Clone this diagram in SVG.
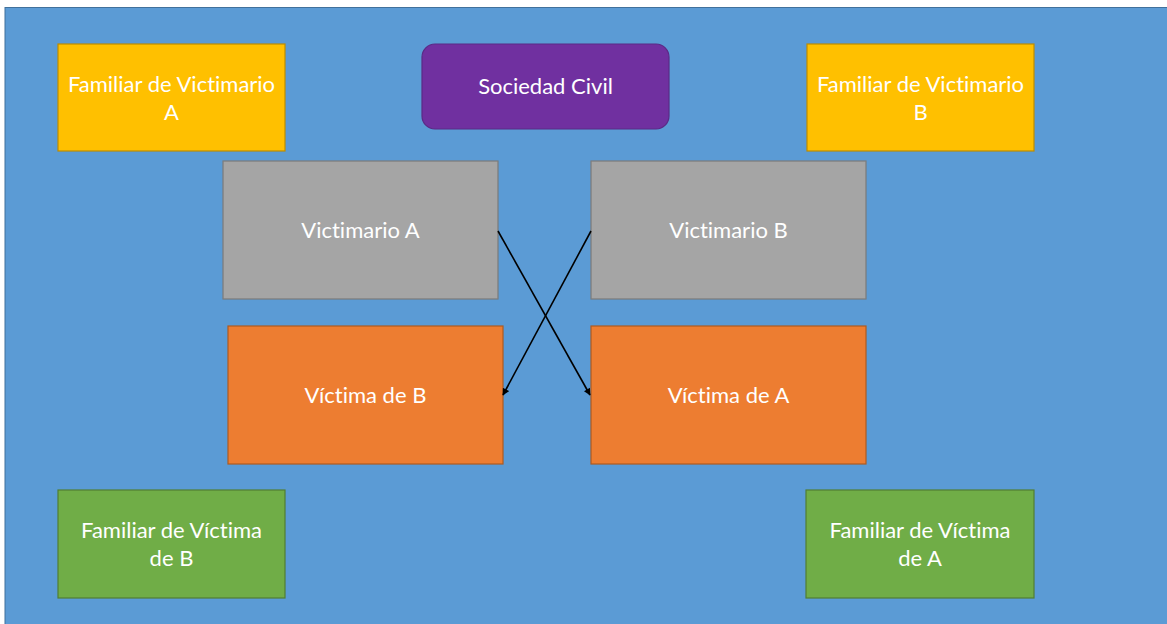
<svg xmlns="http://www.w3.org/2000/svg" width="1167" height="624" viewBox="0 0 1167 624">
<style>
text{font-family:Lato,"Open Sans","Liberation Sans",sans-serif;font-size:22px;fill:#ffffff;text-anchor:middle;font-variant-ligatures:none}
.gold{fill:#FFC000;stroke:#BC8C00;stroke-width:1.2}
.grey{fill:#A5A5A5;stroke:#7B7B7B;stroke-width:1.2}
.orange{fill:#ED7D31;stroke:#AE5A21;stroke-width:1.2}
.green{fill:#70AD47;stroke:#507E32;stroke-width:1.2}
.purple{fill:#7030A0;stroke:#5B2A86;stroke-width:1.2}
.conn{stroke:#000;stroke-width:1.6;fill:none;marker-end:url(#ah)}
</style>
<defs>
<marker id="ah" viewBox="0 0 10 10" refX="9" refY="5" markerWidth="8" markerHeight="7" orient="auto" markerUnits="userSpaceOnUse"><path d="M0,0 L10,5 L0,10 z" fill="#000"/></marker>
</defs>
<rect x="0" y="0" width="1167" height="624" fill="#ffffff"/>
<rect x="5" y="7.5" width="1163" height="618" fill="#5B9BD5" stroke="#41719C" stroke-width="1"/>
<g id="familiar-victimario-a"><rect class="gold" x="58" y="44" width="227" height="107"/><text x="171.5" y="92">Familiar de Victimario</text><text x="171.5" y="120">A</text></g>
<g id="sociedad-civil"><rect class="purple" x="422" y="44" width="247" height="85" rx="13"/><text x="545.5" y="94">Sociedad Civil</text></g>
<g id="familiar-victimario-b"><rect class="gold" x="807" y="44" width="227" height="107"/><text x="920.5" y="92">Familiar de Victimario</text><text x="920.5" y="120">B</text></g>
<g id="victimario-a"><rect class="grey" x="223" y="161" width="275" height="138"/><text x="360.5" y="238">Victimario A</text></g>
<g id="victimario-b"><rect class="grey" x="591" y="161" width="275" height="138"/><text x="728.5" y="238">Victimario B</text></g>
<g id="victima-de-b"><rect class="orange" x="228" y="326" width="275" height="138"/><text x="365.5" y="403">Víctima de B</text></g>
<g id="victima-de-a"><rect class="orange" x="591" y="326" width="275" height="138"/><text x="728.5" y="403">Víctima de A</text></g>
<g id="familiar-victima-b"><rect class="green" x="58" y="490" width="227" height="108"/><text x="171.5" y="538">Familiar de Víctima</text><text x="171.5" y="566">de B</text></g>
<g id="familiar-victima-a"><rect class="green" x="806" y="490" width="228" height="108"/><text x="920" y="538">Familiar de Víctima</text><text x="920" y="566">de A</text></g>
<g id="connectors">
<line class="conn" x1="498" y1="231" x2="590" y2="395"/>
<line class="conn" x1="591" y1="231" x2="503" y2="395"/>
</g>
</svg>
